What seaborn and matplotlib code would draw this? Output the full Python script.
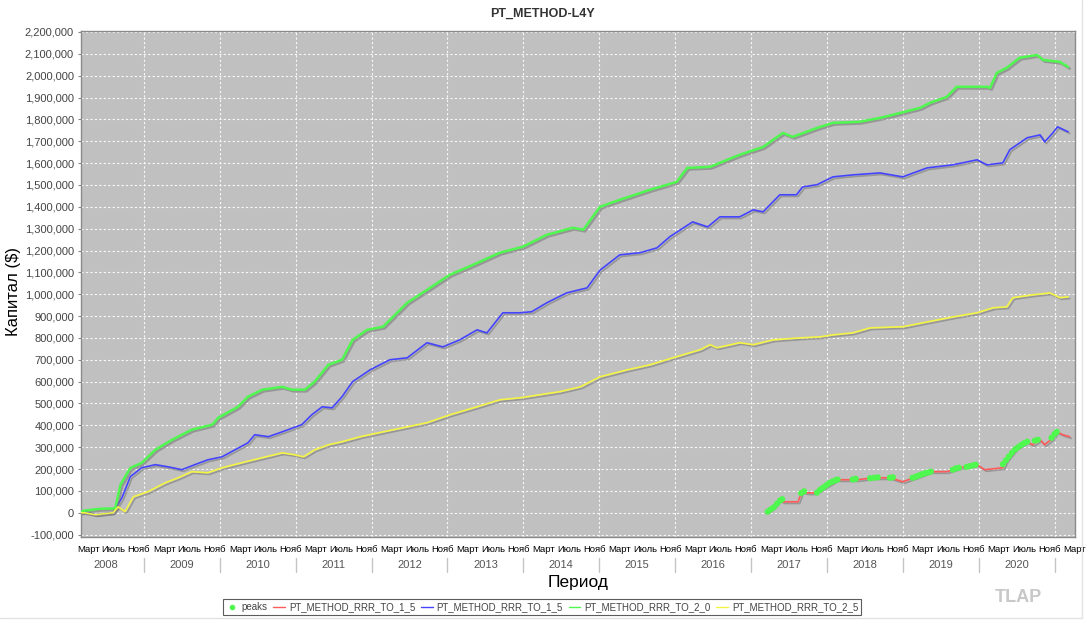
import matplotlib
matplotlib.use("Agg")
import matplotlib.pyplot as plt
import matplotlib.patheffects as pe
import matplotlib.transforms as mtransforms
from matplotlib.lines import Line2D
import seaborn as sns
import pandas as pd

# ---------------- data (decimal years, capital in $ thousands) ----------------
green_t = [2008.17, 2008.22, 2008.42, 2008.62, 2008.69, 2008.82, 2008.97, 2009.15, 2009.37,
           2009.63, 2009.90, 2009.98, 2010.24, 2010.37, 2010.56, 2010.82, 2010.95, 2011.12,
           2011.25, 2011.43, 2011.61, 2011.75, 2011.94, 2012.15, 2012.47, 2012.73, 2013.03,
           2013.34, 2013.69, 2013.99, 2014.31, 2014.65, 2014.79, 2015.01, 2015.27, 2015.67,
           2016.02, 2016.16, 2016.46, 2016.85, 2017.16, 2017.42, 2017.55, 2017.87, 2018.08,
           2018.43, 2018.70, 2018.87, 2019.23, 2019.36, 2019.58, 2019.71, 2020.11, 2020.15,
           2020.24, 2020.37, 2020.54, 2020.77, 2020.85, 2021.07, 2021.18]
green_v = [5, 10, 18, 20, 128, 205, 228, 288, 334,
           380, 403, 435, 485, 531, 563, 576, 563, 563,
           600, 677, 700, 791, 837, 851, 961, 1020, 1089,
           1135, 1190, 1217, 1272, 1304, 1295, 1400, 1432, 1478,
           1514, 1578, 1583, 1638, 1674, 1738, 1720, 1761, 1784,
           1789, 1807, 1821, 1853, 1876, 1903, 1949, 1949, 1944,
           2013, 2036, 2082, 2095, 2072, 2063, 2040]

blue_t = [2008.17, 2008.22, 2008.36, 2008.59, 2008.71, 2008.82, 2008.97, 2009.15, 2009.32,
          2009.50, 2009.67, 2009.84, 2010.03, 2010.20, 2010.37, 2010.46, 2010.64, 2010.82,
          2011.08, 2011.21, 2011.35, 2011.48, 2011.61, 2011.75, 2011.98, 2012.24, 2012.47,
          2012.73, 2012.94, 2013.16, 2013.39, 2013.52, 2013.73, 2013.96, 2014.11, 2014.31,
          2014.57, 2014.84, 2015.01, 2015.27, 2015.54, 2015.76, 2015.93, 2016.23, 2016.43,
          2016.59, 2016.85, 2017.03, 2017.16, 2017.38, 2017.60, 2017.68, 2017.87, 2018.08,
          2018.34, 2018.70, 2019.00, 2019.32, 2019.66, 2019.98, 2020.11, 2020.32, 2020.41,
          2020.64, 2020.81, 2020.87, 2020.98, 2021.04, 2021.18]
blue_v = [0, 5, -9, 0, 69, 165, 206, 220, 210,
          197, 220, 242, 256, 288, 320, 357, 348, 370,
          403, 448, 485, 480, 531, 600, 654, 700, 709,
          778, 759, 791, 837, 823, 915, 915, 920, 961,
          1006, 1029, 1110, 1180, 1190, 1212, 1263, 1331, 1308,
          1354, 1354, 1386, 1377, 1455, 1455, 1491, 1501, 1537,
          1546, 1555, 1537, 1578, 1592, 1615, 1592, 1601, 1661,
          1716, 1729, 1697, 1739, 1766, 1743]

yellow_t = [2008.17, 2008.22, 2008.36, 2008.59, 2008.66, 2008.75, 2008.86, 2009.05, 2009.28,
            2009.45, 2009.63, 2009.84, 2010.03, 2010.29, 2010.56, 2010.82, 2010.99, 2011.10,
            2011.25, 2011.43, 2011.61, 2011.85, 2012.15, 2012.47, 2012.73, 2013.03, 2013.39,
            2013.69, 2013.96, 2014.22, 2014.48, 2014.75, 2015.01, 2015.37, 2015.67, 2015.97,
            2016.33, 2016.46, 2016.55, 2016.85, 2017.03, 2017.29, 2017.64, 2017.91, 2018.08,
            2018.34, 2018.57, 2019.00, 2019.32, 2019.66, 2019.98, 2020.19, 2020.37, 2020.45,
            2020.71, 2020.94, 2021.07, 2021.18]
yellow_v = [0, 0, -9, 0, 27, 5, 73, 96, 137,
            160, 188, 183, 206, 229, 252, 274, 265, 256,
            288, 311, 325, 348, 370, 393, 412, 448, 485,
            517, 526, 540, 554, 576, 622, 654, 677, 709,
            746, 769, 755, 778, 769, 791, 800, 805, 814,
            823, 846, 851, 873, 896, 915, 938, 942, 984,
            997, 1006, 984, 988]

red_t = [2017.22, 2017.31, 2017.38, 2017.42, 2017.62, 2017.67, 2017.74, 2017.84, 2017.91,
         2018.13, 2018.40, 2018.61, 2018.83, 2019.00, 2019.19, 2019.36, 2019.58, 2019.75,
         2019.98, 2020.08, 2020.32, 2020.37, 2020.50, 2020.64, 2020.71, 2020.81, 2020.87,
         2020.98, 2021.03, 2021.11, 2021.20]
red_v = [5, 30, 59, 50, 50, 96, 91, 91, 105,
         151, 151, 160, 160, 142, 165, 188, 188, 206,
         220, 197, 206, 242, 297, 325, 311, 334, 311,
         343, 370, 357, 348]

peaks_t = [2017.22, 2017.26, 2017.30, 2017.34, 2017.38, 2017.41,
           2017.66, 2017.70,
           2017.87, 2017.91, 2017.95, 2017.99, 2018.03, 2018.07, 2018.11, 2018.14,
           2018.34, 2018.38,
           2018.57, 2018.62, 2018.67,
           2018.83, 2018.87,
           2019.13, 2019.17, 2019.21, 2019.25, 2019.29, 2019.33, 2019.37,
           2019.66, 2019.70, 2019.74,
           2019.84, 2019.88, 2019.92, 2019.96,
           2020.32, 2020.36, 2020.40, 2020.44, 2020.48, 2020.52, 2020.56, 2020.60, 2020.64,
           2020.74, 2020.78,
           2020.96, 2021.00, 2021.03]
peaks_v = [5, 15, 25, 40, 55, 62,
           90, 98,
           92, 105, 115, 125, 135, 142, 148, 152,
           152, 155,
           158, 160, 162,
           160, 162,
           160, 165, 170, 176, 180, 184, 188,
           197, 203, 206,
           210, 213, 216, 220,
           222, 240, 258, 275, 290, 300, 310, 318, 325,
           330, 334,
           343, 360, 370]

years = list(range(2008, 2021))
month_names = ["Март", "Июль", "Нояб"]
month_nums = [3, 7, 11]
series_labels = ["peaks", "PT_METHOD_RRR_TO_1_5", "PT_METHOD_RRR_TO_1_5",
                 "PT_METHOD_RRR_TO_2_0", "PT_METHOD_RRR_TO_2_5"]

# ---------------- styling ----------------
sns.set_style("ticks")
plt.rcParams["font.family"] = ["Liberation Sans", "DejaVu Sans"]

C_GREEN = "#4ef84e"
C_BLUE = "#4444ff"
C_YELLOW = "#f4f444"
C_RED = "#ff5a5a"

fig = plt.figure(figsize=(10.86, 6.22), dpi=100)
W, H = 1086, 622
ax = fig.add_axes([81 / W, 1 - 537 / H, (1075 - 81) / W, (537 - 31) / H])
ax.set_facecolor("#c0c0c0")

shadow = [pe.SimpleLineShadow(offset=(1.2, -1.2), shadow_color="#7a7a7a", alpha=0.6),
          pe.Normal()]

K = 1000
df_blue = pd.DataFrame({"t": blue_t, "v": [v * K for v in blue_v]})
df_green = pd.DataFrame({"t": green_t, "v": [v * K for v in green_v]})
df_yellow = pd.DataFrame({"t": yellow_t, "v": [v * K for v in yellow_v]})
df_red = pd.DataFrame({"t": red_t, "v": [v * K for v in red_v]})
df_peaks = pd.DataFrame({"t": peaks_t, "v": [v * K for v in peaks_v]})

sns.lineplot(data=df_blue, x="t", y="v", ax=ax, color=C_BLUE, linewidth=1.2,
             estimator=None, sort=False, path_effects=shadow, zorder=3)
sns.lineplot(data=df_green, x="t", y="v", ax=ax, color=C_GREEN, linewidth=1.8,
             estimator=None, sort=False, path_effects=shadow, zorder=3)
sns.lineplot(data=df_yellow, x="t", y="v", ax=ax, color=C_YELLOW, linewidth=1.2,
             estimator=None, sort=False, path_effects=shadow, zorder=3)
sns.lineplot(data=df_red, x="t", y="v", ax=ax, color=C_RED, linewidth=1.2,
             estimator=None, sort=False, path_effects=shadow, zorder=3)
sns.scatterplot(data=df_peaks, x="t", y="v", ax=ax, color=C_GREEN, s=20,
                edgecolor="none", zorder=4)

ax.set_xlim(2008.17, 2021.27)
ax.set_ylim(-111000, 2204500)

# y axis
yt = list(range(-100000, 2200001, 100000))
ax.set_yticks(yt)
ax.set_yticklabels([f"{v:,}" for v in yt], fontsize=8, color="#444444")
ax.tick_params(axis="y", length=2, color="#888888", pad=3)

# x axis: months as major tick labels, year boundaries as minor grid
xpos, xlab = [], []
for y in years:
    for m, nm in zip(month_nums, month_names):
        xpos.append(y + (m - 1) / 12 + 0.1)
        xlab.append(nm)
xpos.append(2021.262)
xlab.append("Март")
ax.set_xticks(xpos)
ax.set_xticklabels(xlab, fontsize=6.8, color="black")
ax.tick_params(axis="x", length=0, pad=6)
ax.set_xticks([y + 1 for y in years], minor=True)
ax.tick_params(axis="x", which="minor", length=0)

ax.grid(False)
ax.yaxis.grid(True, color="white", linestyle=(0, (2, 2)), linewidth=0.8, alpha=0.9)
ax.xaxis.grid(True, which="minor", color="white", linestyle=(0, (2, 2)),
              linewidth=0.8, alpha=0.9)
ax.set_axisbelow(True)

for s in ax.spines.values():
    s.set_color("#8a8a8a")
    s.set_linewidth(1.0)

trans = mtransforms.blended_transform_factory(ax.transData, ax.transAxes)
for y in years:
    ax.text(y + 0.5, -0.055, str(y), transform=trans, ha="center", va="center",
            fontsize=8, color="#555555")
for y in years:
    ax.plot([y + 1, y + 1], [-0.041, -0.069], transform=trans, color="#c4c4c4",
            linewidth=1.0, clip_on=False)

ax.set_xlabel("")
ax.set_ylabel("")

# texts
fig.text(542 / W, 1 - 14 / H, "PT_METHOD-L4Y", ha="center", va="center",
         fontsize=9, fontweight="bold", color="#333333")
fig.text(14 / W, 1 - 292 / H, "Капитал ($)", rotation=90, ha="center", va="center",
         fontsize=12, color="black")
fig.text(578 / W, 1 - 583 / H, "Период", ha="center", va="center",
         fontsize=12.5, color="black")
fig.text(1018 / W, 1 - 597 / H, "TLAP", ha="center", va="center",
         fontsize=13, fontweight="bold", color="#c8c8c8")

# legend
handles = [
    Line2D([], [], linestyle="none", marker="o", markersize=3, color=C_GREEN),
    Line2D([], [], color=C_RED, linewidth=1),
    Line2D([], [], color=C_BLUE, linewidth=1),
    Line2D([], [], color=C_GREEN, linewidth=1),
    Line2D([], [], color=C_YELLOW, linewidth=1),
]
leg = fig.legend(handles, series_labels, loc="center", ncol=5,
                 bbox_to_anchor=(542 / W, 1 - 607 / H), fontsize=7, frameon=True,
                 fancybox=False, edgecolor="#333333", handlelength=1.2,
                 handletextpad=0.4, columnspacing=0.6, borderpad=0.35)
leg.get_frame().set_linewidth(0.8)
for t in leg.get_texts():
    t.set_color("#444444")

# faint panel border
fig.add_artist(Line2D([1082 / W, 1082 / W], [1 - 618 / H, 1.0], transform=fig.transFigure,
                      color="#e2e2e2", linewidth=1))
fig.add_artist(Line2D([0, 1082 / W], [1 - 618 / H, 1 - 618 / H], transform=fig.transFigure,
                      color="#e2e2e2", linewidth=1))

fig.savefig("out.png", dpi=100, facecolor="white")
